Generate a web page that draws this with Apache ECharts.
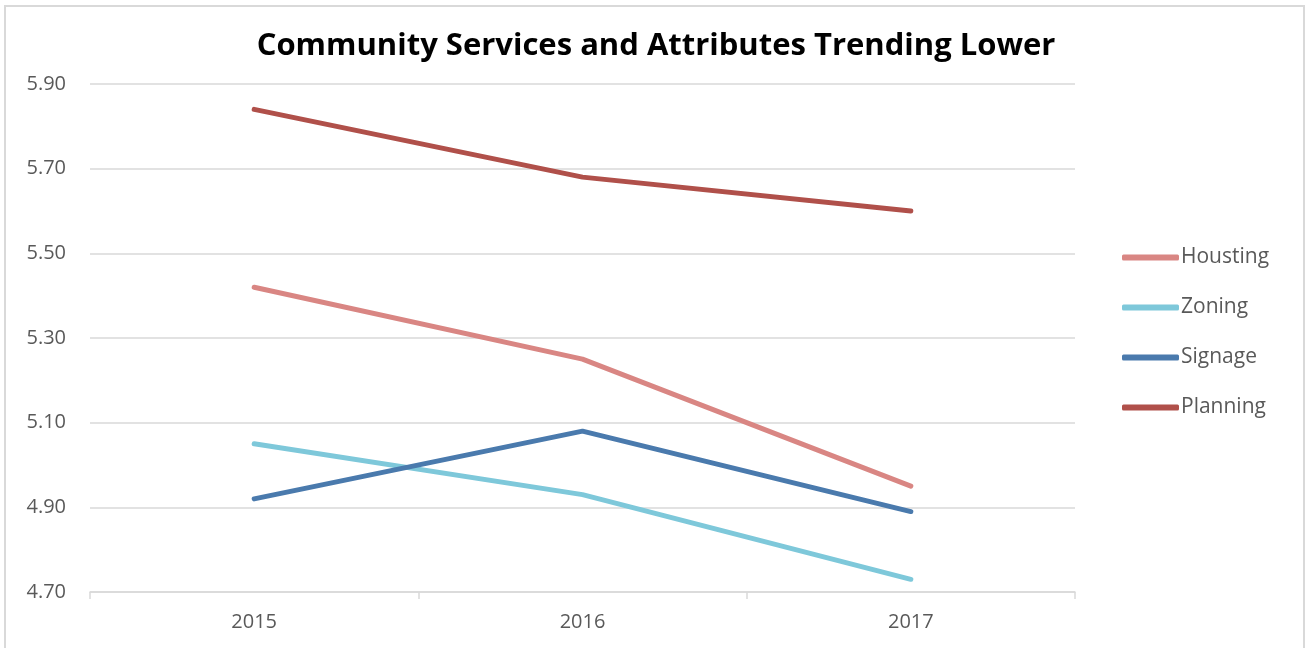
<!DOCTYPE html>
<html>
<head>
<meta charset="utf-8">
<script src="https://cdn.jsdelivr.net/npm/echarts@6/dist/echarts.min.js"></script>
<style>
  html, body { margin: 0; padding: 0; background: #fff; }
  #chart { width: 1308px; height: 648px; }
</style>
</head>
<body>
<div id="chart"></div>
<script>
const years = ['2015', '2016', '2017'];
const housting = [5.42, 5.25, 4.95];
const zoning = [5.05, 4.93, 4.73];
const signage = [4.92, 5.08, 4.89];
const planning = [5.84, 5.68, 5.60];
const yTicks = [4.70, 4.90, 5.10, 5.30, 5.50, 5.70, 5.90];

const font = '"Open Sans", "Liberation Sans", sans-serif';

function lineSeries(name, data, color) {
  return {
    name: name,
    type: 'line',
    data: data,
    symbol: 'none',
    lineStyle: { color: color, width: 5, cap: 'round', join: 'round' },
    itemStyle: { color: color }
  };
}

const chart = echarts.init(document.getElementById('chart'));
chart.setOption({
  animation: false,
  title: {
    text: 'Community Services and Attributes Trending Lower',
    left: 651,
    textAlign: 'center',
    top: 26,
    textStyle: { fontFamily: font, fontSize: 31, fontWeight: 'bold', color: '#000' }
  },
  graphic: [{
    type: 'rect',
    shape: { x: 5, y: 6, width: 1299, height: 700 },
    style: { fill: 'none', stroke: '#d9d9d9', lineWidth: 2 },
    silent: true
  }],
  legend: {
    orient: 'vertical',
    left: 1122,
    top: 247,
    padding: 0,
    itemWidth: 57,
    itemHeight: 6,
    itemGap: 29,
    icon: 'roundRect',
    textStyle: { fontFamily: font, fontSize: 21, color: '#595959', padding: [0, 0, 0, -3] },
    data: ['Housting', 'Zoning', 'Signage', 'Planning']
  },
  grid: { left: 90, right: 233, top: 84, bottom: 56, containLabel: false },
  xAxis: {
    type: 'category',
    data: years,
    boundaryGap: true,
    axisLine: { lineStyle: { color: '#d9d9d9', width: 1.5 } },
    axisTick: { show: true, length: 7, lineStyle: { color: '#d9d9d9', width: 1.5 } },
    axisLabel: { fontFamily: font, fontSize: 20, color: '#595959', margin: 20 },
    splitLine: { show: false }
  },
  yAxis: {
    type: 'value',
    min: yTicks[0],
    max: yTicks[yTicks.length - 1],
    interval: 0.2,
    axisLine: { show: false },
    axisTick: { show: false },
    axisLabel: {
      fontFamily: font, fontSize: 20, color: '#595959', margin: 24,
      formatter: v => v.toFixed(2)
    },
    splitLine: { lineStyle: { color: '#d9d9d9', width: 1.5 } }
  },
  series: [
    lineSeries('Housting', housting, '#d98683'),
    lineSeries('Zoning', zoning, '#7ec8da'),
    lineSeries('Signage', signage, '#4a7aad'),
    lineSeries('Planning', planning, '#b0504a')
  ]
});
</script>
</body>
</html>
